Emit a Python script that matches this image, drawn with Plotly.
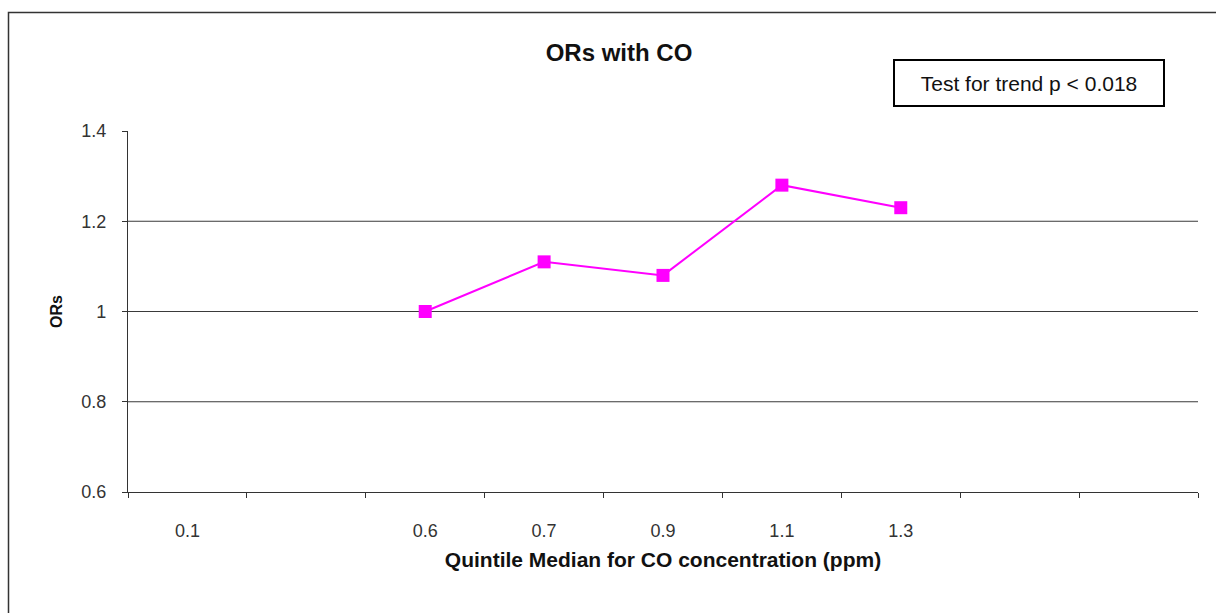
import plotly.graph_objects as go

# Category slots along the x axis (empty slots carry no label)
x_labels = ["0.1", "", "0.6", "0.7", "0.9", "1.1", "1.3", "", ""]
quintile_medians = ["0.6", "0.7", "0.9", "1.1", "1.3"]
odds_ratios = [1.00, 1.11, 1.08, 1.28, 1.23]
y_ticks = [0.6, 0.8, 1.0, 1.2, 1.4]
grid_values = [0.8, 1.0, 1.2]

FONT = "Arial, Liberation Sans, sans-serif"
W, H = 1216, 613
L, R, T, B = 128, 18, 131, 121
PW, PH = W - L - R, H - T - B

slot_pos = list(range(1, len(x_labels) + 1))
x_pos = [x_labels.index(m) + 1 for m in quintile_medians]

fig = go.Figure()
fig.add_trace(go.Scatter(
    x=x_pos, y=odds_ratios, mode="lines+markers",
    line=dict(color="#FF00FF", width=2),
    marker=dict(symbol="square", size=13, color="#FF00FF"),
    showlegend=False, hoverinfo="y",
))

shapes = [
    dict(type="line", xref="paper", yref="y", x0=0, x1=1, y0=g, y1=g,
         line=dict(color="#3a3a3a", width=1.2), layer="below")
    for g in grid_values
]
# outer chart frame
shapes.append(dict(type="rect", xref="paper", yref="paper",
                   x0=(8.5 - L) / PW, x1=(W + 20 - L) / PW,
                   y0=-(B + 20) / PH, y1=(PH + T - 12.5) / PH,
                   line=dict(color="#333333", width=1.5), layer="below"))

fig.update_layout(
    width=W, height=H,
    margin=dict(l=L, r=R, t=T, b=B),
    paper_bgcolor="white", plot_bgcolor="white",
    font=dict(family=FONT, color="#333333"),
    title=dict(text="<b>ORs with CO</b>", x=619 / W, xanchor="center",
               y=1 - 53 / H, yanchor="middle", yref="container",
               font=dict(family=FONT, size=24, color="#111111")),
    xaxis=dict(
        range=[0.5, len(x_labels) + 0.5], tickmode="array",
        tickvals=slot_pos, ticktext=x_labels, ticks="", showgrid=False,
        showline=True, linecolor="#333333", linewidth=1.2, zeroline=False,
        tickfont=dict(size=18, color="#333333"), ticklabelstandoff=22,
        minor=dict(tick0=0.5, dtick=1, ticks="outside", ticklen=5,
                   tickcolor="#333333", tickwidth=1.2, showgrid=False),
        title=dict(text="<b>Quintile Median for CO concentration (ppm)</b>",
                   font=dict(size=21, color="#111111"), standoff=12),
        fixedrange=True,
    ),
    yaxis=dict(
        range=[0.6, 1.4], tickmode="array", tickvals=y_ticks,
        ticktext=[f"{v:g}" for v in y_ticks], showgrid=False,
        showline=True, linecolor="#333333", linewidth=1.2, zeroline=False,
        ticks="outside", ticklen=5, tickcolor="#333333", tickwidth=1.2,
        tickfont=dict(size=18, color="#333333"), ticklabelstandoff=12,
        title=dict(text="<b>ORs</b>", font=dict(size=16, color="#111111"),
                   standoff=14),
        fixedrange=True,
    ),
    shapes=shapes,
    annotations=[dict(
        text="Test for trend p < 0.018", xref="paper", yref="paper",
        x=(893 - L) / PW, y=(PH + T - 59) / PH, xanchor="left", yanchor="top",
        showarrow=False, align="center", width=268, height=44,
        bordercolor="#000000", borderwidth=2, borderpad=0, bgcolor="white",
        font=dict(family=FONT, size=21, color="#111111"),
    )],
)

fig.write_html("out.html")
